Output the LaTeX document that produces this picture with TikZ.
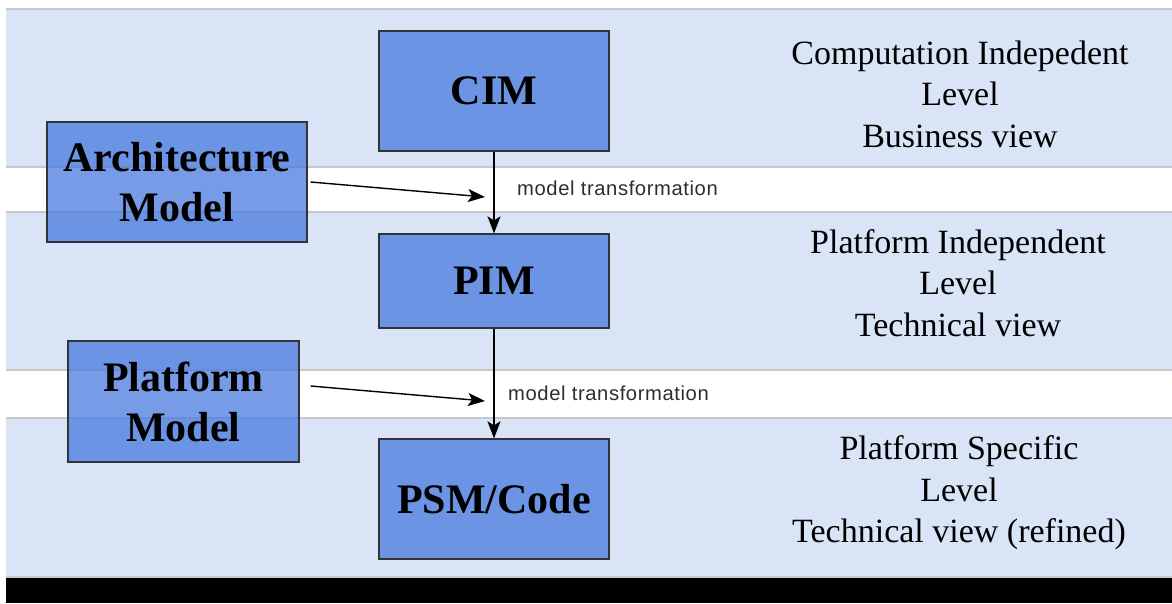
\documentclass[tikz,border=0pt]{standalone}
\usepackage{fontspec}
\setmainfont{Liberation Serif}
\newfontfamily\sansf[LetterSpace=3]{Liberation Sans}
\usetikzlibrary{arrows.meta}
\definecolor{bandblue}{RGB}{217,229,247}
\definecolor{bandline}{RGB}{200,200,204}
\definecolor{boxblue}{RGB}{66,117,222}
\definecolor{labelgray}{RGB}{45,45,45}
\tikzset{
  band/.style={fill=bandblue},
  bandedge/.style={draw=bandline, line width=2pt},
  modelbox/.style={draw=black!80, line width=1.3pt, fill=boxblue, fill opacity=0.72, text opacity=1,
    minimum width=#1, inner sep=0pt, align=center,
    font=\fontsize{42}{50}\selectfont\bfseries},
  modelbox/.default=230pt,
  leveltext/.style={align=center, font=\fontsize{34}{41.5}\selectfont, inner sep=0pt},
  translabel/.style={anchor=west, inner sep=0pt, text=labelgray, font=\sansf\fontsize{20.2}{22}\selectfont},
  flow/.style={line width=1.4pt, -{Stealth[length=17pt,width=13pt,inset=4pt]}},
}
\begin{document}
\begin{tikzpicture}[x=1pt,y=-1pt]
\useasboundingbox (0,0) rectangle (1172,603);
% bands
\fill[band] (6,9) rectangle (1172,167);
\fill[band] (6,212) rectangle (1172,370);
\fill[band] (6,418) rectangle (1172,577);
\foreach \yy in {9,167,212,370,418,577} {\draw[bandedge] (6,\yy) -- (1172,\yy);}
\fill[black] (6,578) rectangle (1172,603);
% model boxes
\node[modelbox=230pt, minimum height=120pt] (cim) at (494,91) {CIM};
\node[modelbox=230pt, minimum height=94pt] (pim) at (494,281) {PIM};
\node[modelbox=230pt, minimum height=120pt] (psm) at (494,499) {PSM/Code};
\node[modelbox=260pt, minimum height=120pt] (arch) at (177,182) {Architecture\\Model};
\node[modelbox=231pt, minimum height=121pt] (plat) at (183.5,401.5) {Platform\\Model};
% arrow end points
\coordinate (archend) at (485,197);
\coordinate (platend) at (485,401);
% connectors
\draw[flow] (cim.south) -- (pim.north);
\draw[flow] (pim.south) -- (psm.north);
\draw[flow] ([xshift=3pt]arch.east) -- (archend);
\draw[flow] ([xshift=11pt,yshift=15.5pt]plat.east) -- (platend);
% labels
\node[translabel] (lab1) at (517,188) {model transformation};
\node[translabel] (lab2) at (508,393) {model transformation};
% level texts
\node[leveltext] (lv1) at (960,94) {Computation Indepedent\\Level\\Business view};
\node[leveltext] (lv2) at (958,283) {Platform Independent\\Level\\Technical view};
\node[leveltext] (lv3) at (959,493) {Platform Specific\\Level\\Technical view (refined)};
\end{tikzpicture}
\end{document}
